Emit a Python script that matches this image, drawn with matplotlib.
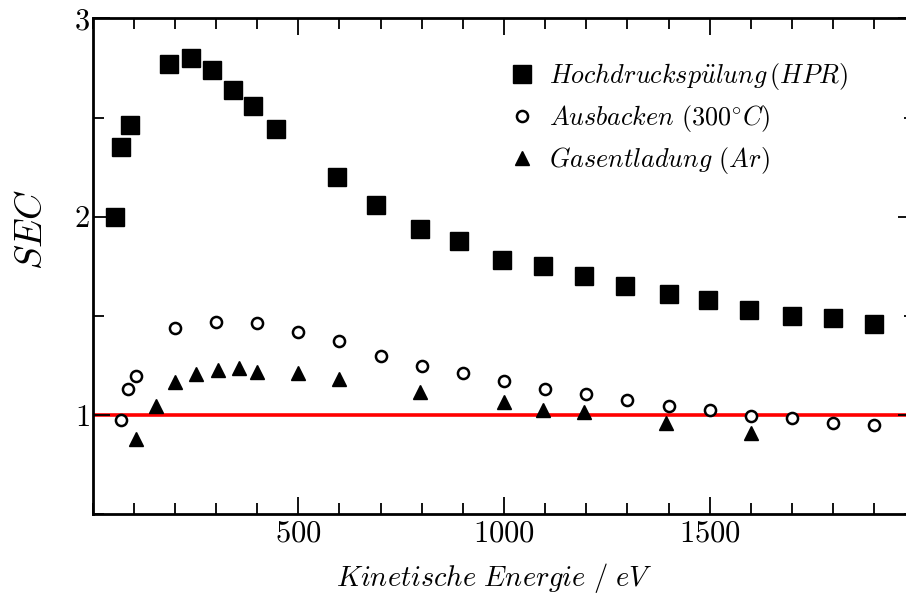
import matplotlib
matplotlib.use("Agg")
from matplotlib import pyplot as plt
from matplotlib.ticker import MultipleLocator

plt.rcParams['mathtext.fontset'] = 'cm'
plt.rcParams['font.family'] = 'serif'
plt.rcParams['font.serif'] = ['cmr10', 'DejaVu Serif']
plt.rcParams['axes.formatter.use_mathtext'] = True

# Hochdruckspuelung (HPR)
hpr_x = [55, 70, 90, 185, 240, 290, 340, 390, 445, 595, 690, 795, 890, 995,
         1095, 1195, 1295, 1400, 1495, 1595, 1700, 1800, 1900]
hpr_y = [2.00, 2.35, 2.46, 2.77, 2.80, 2.74, 2.64, 2.56, 2.44, 2.20, 2.06, 1.94,
         1.88, 1.78, 1.75, 1.70, 1.65, 1.61, 1.58, 1.53, 1.50, 1.49, 1.46]

# Ausbacken (300 C)
aus_x = [70, 85, 105, 200, 300, 400, 500, 600, 700, 800, 900, 1000, 1100, 1200,
         1300, 1400, 1500, 1600, 1700, 1800, 1900]
aus_y = [0.975, 1.13, 1.195, 1.44, 1.47, 1.465, 1.42, 1.375, 1.30, 1.25, 1.21,
         1.17, 1.13, 1.105, 1.075, 1.045, 1.025, 0.997, 0.987, 0.962, 0.95]

# Gasentladung (Ar)
gas_x = [105, 155, 200, 250, 305, 355, 400, 500, 600, 795, 1000, 1095, 1195,
         1395, 1600]
gas_y = [0.88, 1.045, 1.165, 1.205, 1.225, 1.24, 1.215, 1.21, 1.18, 1.115, 1.065,
         1.025, 1.017, 0.96, 0.91]

x_ticks = [500, 1000, 1500]
y_ticks = [1, 2, 3]

fig = plt.figure(figsize=(9.06, 5.95), dpi=100)
ax = fig.add_axes([0.1023, 0.1356, 0.9080, 0.8336])

ax.axhline(1, color="#ff0000", linewidth=2.6, zorder=1)
ax.plot(hpr_x, hpr_y, linestyle="none", marker="s", markersize=12.3, color="black",
        label=r"$Hochdrucksp\ddot{u}lung\,(HPR)$", zorder=3)
ax.plot(aus_x, aus_y, linestyle="none", marker="o", markersize=8, markeredgewidth=1.8,
        markerfacecolor="white", markeredgecolor="black",
        label=r"$Ausbacken\ (300^{\circ}C)$", zorder=3)
ax.plot(gas_x, gas_y, linestyle="none", marker="^", markersize=10.5, color="black",
        label=r"$Gasentladung\ (Ar)$", zorder=3)

ax.set_xlim(0, 2000)
ax.set_ylim(0.5, 3.0)
ax.set_xticks(x_ticks, labels=["$%d$" % t for t in x_ticks])
ax.set_yticks(y_ticks, labels=["$%d$" % t for t in y_ticks])
ax.xaxis.set_minor_locator(MultipleLocator(100))
ax.yaxis.set_minor_locator(MultipleLocator(0.5))
ax.tick_params(which="both", direction="in", top=True, right=True, width=1.3,
               labelsize=22, pad=4)
ax.tick_params(axis="y", pad=2)
ax.tick_params(which="major", length=12)
ax.tick_params(which="minor", length=8)
for s in ax.spines.values():
    s.set_linewidth(2)

ax.set_xlabel(r"$Kinetische\ Energie\ /\ eV$", fontsize=20.5)
ax.set_ylabel(r"$SEC$", fontsize=27)
ax.xaxis.set_label_coords(0.488, -0.094)
ax.yaxis.set_label_coords(-0.053, 0.575)

ax.legend(loc="upper left", bbox_to_anchor=(0.4915, 0.94), frameon=False,
          fontsize=18.8, handlelength=0.9, handletextpad=0.6, labelspacing=0.42,
          borderpad=0, numpoints=1)

plt.savefig("out.png", dpi=100)
